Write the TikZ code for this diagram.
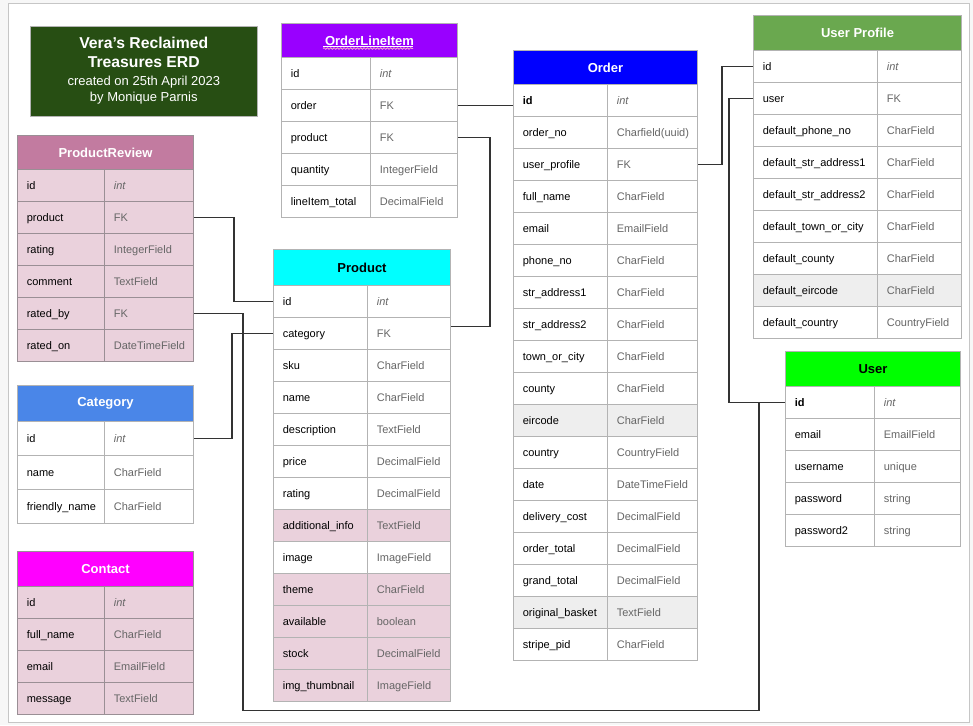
\documentclass[tikz,border=0pt]{standalone}
\usepackage{fontspec}
\setmainfont{Liberation Sans}
\usetikzlibrary{decorations.pathmorphing}

\definecolor{titlegreen}{HTML}{274E13}
\definecolor{olipurple}{HTML}{9900FF}
\definecolor{reviewpink}{HTML}{C27BA0}
\definecolor{catblue}{HTML}{4A86E8}
\definecolor{contactmagenta}{HTML}{FF00FF}
\definecolor{productcyan}{HTML}{00FFFF}
\definecolor{orderblue}{HTML}{0000FF}
\definecolor{profilegreen}{HTML}{6AA84F}
\definecolor{userlime}{HTML}{00FF00}
\definecolor{pinkrow}{HTML}{EAD1DC}
\definecolor{grayrow}{HTML}{EEEEEE}
\definecolor{cellgray}{HTML}{B3B3B3}
\definecolor{darkcell}{HTML}{9A8F95}
\definecolor{typegray}{HTML}{666666}
\definecolor{linkgray}{HTML}{333333}
\definecolor{pagegray}{HTML}{F7F7F7}
\definecolor{spellpink}{HTML}{F4A6C8}

\begin{document}
\begin{tikzpicture}[
  x=0.75pt, y=-0.75pt,
  every node/.style={font=\fontsize{8.25}{10}\selectfont},
  cell/.style={draw=cellgray, line width=0.75pt, anchor=north west, minimum height=24pt, inner xsep=7pt, inner ysep=0pt, align=left, text height=8pt, text depth=1.6pt},
  namecell/.style={cell, minimum width=#1*0.75pt, text width=#1*0.75pt-14pt},
  typecell/.style={cell, minimum width=#1*0.75pt, text width=#1*0.75pt-14pt, text=typegray},
  header/.style={draw=cellgray, line width=0.75pt, anchor=north west, inner sep=0pt, text=white, font=\bfseries\fontsize{9.75}{12}\selectfont},
  link/.style={draw=linkgray, line width=1pt}
]
\useasboundingbox (0,0) rectangle (973,725);
\fill[pagegray] (0,0) rectangle (973,725);
\draw[fill=white, draw=gray!45] (8,3) rectangle (969,722);

% --- TITLE ---
\node[draw=cellgray, fill=titlegreen, text=white, anchor=north west, minimum width=227*0.75pt, minimum height=90*0.75pt, inner sep=0pt, align=center] (title) at (30,25.5)
  {\fontsize{11.8}{14}\selectfont\bfseries Vera’s Reclaimed\\[4pt]
   \fontsize{11.8}{14}\selectfont\bfseries Treasures ERD\\[3.4pt]
   \fontsize{9.75}{12}\selectfont created on 25th April 2023\\[2pt]
   \fontsize{9.75}{12}\selectfont by Monique Parnis};

% --- ORDER LINE ITEM ---
\node[header, fill=olipurple, minimum width=176*0.75pt, minimum height=34*0.75pt] (oli) at (281,23) {OrderLineItem};
\draw[white, line width=0.6pt] (323,46) -- (413,46);
\draw[spellpink, line width=0.6pt, decorate, decoration={snake, amplitude=0.6pt, segment length=2.5pt}] (323,48.5) -- (413,48.5);
\foreach \fld/\typ [count=\i] in {id/\textit{int}, order/FK, product/FK, quantity/IntegerField, lineItem\_total/DecimalField} {
  \node[namecell=89] (oli-\i) at (281,{57+32*(\i-1)}) {\fld};
  \node[typecell=87] (oli-\i-type) at (370,{57+32*(\i-1)}) {\typ};
}

% --- PRODUCT REVIEW ---
\node[header, draw=darkcell, fill=reviewpink, minimum width=176*0.75pt, minimum height=34*0.75pt] (pr) at (17,135) {ProductReview};
\foreach \fld/\typ [count=\i] in {id/\textit{int}, product/FK, rating/IntegerField, comment/TextField, rated\_by/FK, rated\_on/DateTimeField} {
  \node[namecell=87, draw=darkcell, fill=pinkrow] (pr-\i) at (17,{169+32*(\i-1)}) {\fld};
  \node[typecell=89, draw=darkcell, fill=pinkrow] (pr-\i-type) at (104,{169+32*(\i-1)}) {\typ};
}

% --- CATEGORY ---
\node[header, fill=catblue, minimum width=176*0.75pt, minimum height=36*0.75pt] (cat) at (17,385) {Category};
\foreach \fld/\typ [count=\i] in {id/\textit{int}, name/CharField, friendly\_name/CharField} {
  \node[namecell=87, minimum height=25.5pt] (cat-\i) at (17,{421+34*(\i-1)}) {\fld};
  \node[typecell=89, minimum height=25.5pt] (cat-\i-type) at (104,{421+34*(\i-1)}) {\typ};
}

% --- CONTACT ---
\node[header, draw=darkcell, fill=contactmagenta, minimum width=176*0.75pt, minimum height=35*0.75pt] (contact) at (17,551) {Contact};
\foreach \fld/\typ [count=\i] in {id/\textit{int}, full\_name/CharField, email/EmailField, message/TextField} {
  \node[namecell=87, draw=darkcell, fill=pinkrow] (contact-\i) at (17,{586+32*(\i-1)}) {\fld};
  \node[typecell=89, draw=darkcell, fill=pinkrow] (contact-\i-type) at (104,{586+32*(\i-1)}) {\typ};
}

% --- PRODUCT ---
\node[header, fill=productcyan, text=black, minimum width=177*0.75pt, minimum height=36*0.75pt] (product) at (273,249) {Product};
\foreach \fld/\typ/\bg [count=\i] in {id/\textit{int}/white, category/FK/white, sku/CharField/white, name/CharField/white,
    description/TextField/white, price/DecimalField/white, rating/DecimalField/white, additional\_info/TextField/pinkrow,
    image/ImageField/white, theme/CharField/pinkrow, available/boolean/pinkrow, stock/DecimalField/pinkrow,
    img\_thumbnail/ImageField/pinkrow} {
  \node[namecell=94, fill=\bg] (product-\i) at (273,{285+32*(\i-1)}) {\fld};
  \node[typecell=83, fill=\bg] (product-\i-type) at (367,{285+32*(\i-1)}) {\typ};
}

% --- ORDER ---
\node[header, fill=orderblue, minimum width=184*0.75pt, minimum height=34*0.75pt] (order) at (513,50) {Order};
\foreach \fld/\typ/\bg [count=\i] in {\textbf{id}/\textit{int}/white, order\_no/Charfield(uuid)/white, user\_profile/FK/white,
    full\_name/CharField/white, email/EmailField/white, phone\_no/CharField/white, str\_address1/CharField/white,
    str\_address2/CharField/white, town\_or\_city/CharField/white, county/CharField/white, eircode/CharField/grayrow,
    country/CountryField/white, date/DateTimeField/white, delivery\_cost/DecimalField/white, order\_total/DecimalField/white,
    grand\_total/DecimalField/white, original\_basket/TextField/grayrow, stripe\_pid/CharField/white} {
  \node[namecell=94, fill=\bg] (order-\i) at (513,{84+32*(\i-1)}) {\fld};
  \node[typecell=90, fill=\bg] (order-\i-type) at (607,{84+32*(\i-1)}) {\typ};
}

% --- USER PROFILE ---
\node[header, fill=profilegreen, minimum width=208*0.75pt, minimum height=35*0.75pt] (up) at (753,15) {User Profile};
\foreach \fld/\typ/\bg [count=\i] in {id/\textit{int}/white, user/FK/white, default\_phone\_no/CharField/white,
    default\_str\_address1/CharField/white, default\_str\_address2/CharField/white, default\_town\_or\_city/CharField/white,
    default\_county/CharField/white, default\_eircode/CharField/grayrow, default\_country/CountryField/white} {
  \node[namecell=124, fill=\bg] (up-\i) at (753,{50+32*(\i-1)}) {\fld};
  \node[typecell=84, fill=\bg] (up-\i-type) at (877,{50+32*(\i-1)}) {\typ};
}

% --- USER ---
\node[header, fill=userlime, text=black, minimum width=175*0.75pt, minimum height=35*0.75pt] (user) at (785,351) {User};
\foreach \fld/\typ [count=\i] in {\textbf{id}/\textit{int}, email/EmailField, username/unique, password/string, password2/string} {
  \node[namecell=89, fill=white] (user-\i) at (785,{386+32*(\i-1)}) {\fld};
  \node[typecell=86, fill=white] (user-\i-type) at (874,{386+32*(\i-1)}) {\typ};
}

% --- RELATIONSHIP CONNECTORS ---
\draw[link] (oli-2-type.east) -- (oli-2-type.east -| order-1.west);
\draw[link] (oli-3-type.east) -- ++(32,0) |- ([yshift=5.25pt]product-2-type.east);
\draw[link] (pr-2-type.east) -- ++(40,0) |- (product-1.west);
\draw[link] (pr-5-type.east) -- ++(49,0) -- ++(0,397) -| ([xshift=-19.5pt]user-1.west) -- (user-1.west);
\draw[link] (cat-1-type.east) -- ++(38,0) |- (product-2.west);
\draw[link] (order-3-type.east) -- ++(24,0) |- (up-1.west);
\draw[link] (up-2.west) -- ++(-24,0) |- (user-1.west);

\end{tikzpicture}
\end{document}
